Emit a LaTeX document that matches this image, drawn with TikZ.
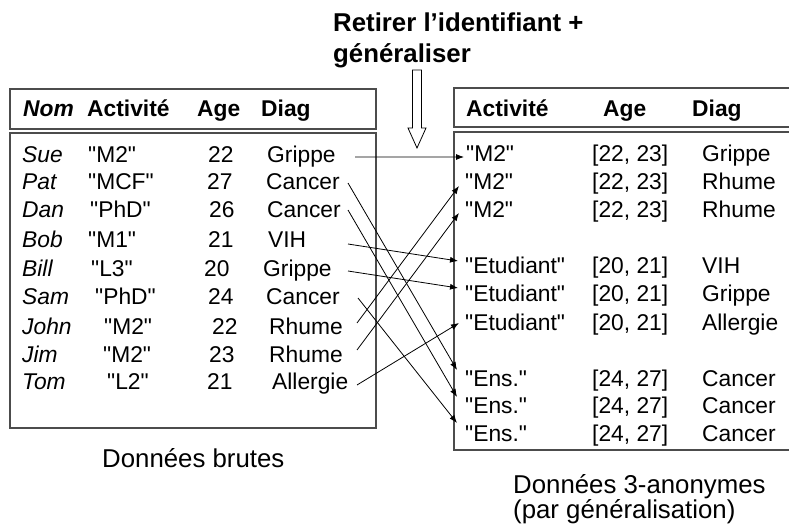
\documentclass[tikz,border=0pt]{standalone}
\usepackage{fontspec}
\setmainfont{Liberation Sans}
\usepackage{xcolor}
\usepackage{tikz}
\usetikzlibrary{arrows.meta}
\definecolor{boxgray}{rgb}{0.3,0.3,0.3}
\newcommand{\qt}[1]{\textquotedbl#1\textquotedbl}

\begin{document}
\begin{tikzpicture}[x=1bp, y=-1bp,
	cell/.style={anchor=base west, inner sep=0pt, font=\fontsize{22.8bp}{27bp}\selectfont},
	head/.style={cell, font=\fontsize{22.8bp}{27bp}\selectfont\bfseries},
	caption/.style={anchor=base west, inner sep=0pt, align=left, font=\fontsize{25.8bp}{25bp}\selectfont},
	frame/.style={draw=boxgray, line width=1.2bp},
	link/.style={-{Latex[length=8bp,width=6bp]}, line width=0.8bp}]
	\useasboundingbox (0,0) rectangle (789,530);
	\draw[frame] (10,89) rectangle (376,129);
	\draw[frame] (10,133) rectangle (376,428);
	\draw[frame] (800,88) -- (454,88) -- (454,127) -- (800,127);
	\draw[frame] (800,132) -- (454,132) -- (454,450) -- (800,450);
	\node[head] (hnom) at (23,117) {\itshape Nom};
	\node[head] (hact) at (87,117) {Activité};
	\node[head] (hage) at (197,117) {Age};
	\node[head] (hdiag) at (261,117) {Diag};
	\node[head] (kact) at (466,117) {Activité};
	\node[head] (kage) at (603,117) {Age};
	\node[head] (kdiag) at (692,117) {Diag};
	\foreach \i/\y/\nom/\xa/\act/\xg/\age/\xd/\diag in {
		1/163/Sue/88/M2/208/22/267/Grippe,
		2/190/Pat/88/MCF/207/27/266/Cancer,
		3/218/Dan/90/PhD/209/26/267/Cancer,
		4/248/Bob/88/M1/208/21/268/VIH,
		5/277/Bill/91/L3/204/20/263/Grippe,
		6/305/Sam/95/PhD/208/24/266/Cancer,
		7/334/John/104/M2/212/22/269/Rhume,
		8/362/Jim/103/M2/209/23/269/Rhume,
		9/389/Tom/107/L2/207/21/272/Allergie}{
		\node[cell] (n\i) at (22,\y) {\itshape\nom};
		\node[cell] (c\i) at (\xa,\y) {\qt{\act}};
		\node[cell] (g\i) at (\xg,\y) {\age};
		\node[cell] (d\i) at (\xd,\y) {\diag};
	}
	\foreach \i/\y/\xa/\act/\age/\diag in {
		1/162/466/M2/{[22, 23]}/Grippe,
		2/190/465/M2/{[22, 23]}/Rhume,
		3/218/465/M2/{[22, 23]}/Rhume,
		4/274/465/Etudiant/{[20, 21]}/VIH,
		5/302/465/Etudiant/{[20, 21]}/Grippe,
		6/330/465/Etudiant/{[20, 21]}/Allergie,
		7/386/465/Ens./{[24, 27]}/Cancer,
		8/413/465/Ens./{[24, 27]}/Cancer,
		9/441/465/Ens./{[24, 27]}/Cancer}{
		\node[cell] (a\i) at (\xa,\y) {\qt{\act}};
		\node[cell] (b\i) at (592,\y) {\age};
		\node[cell] (e\i) at (702,\y) {\diag};
	}
	\node[anchor=base west, inner sep=0pt, align=left, font=\fontsize{25.8bp}{31bp}\selectfont\bfseries] (titre) at (333,63) {Retirer l’identifiant +\\généraliser};
	\draw[line width=0.8bp] (412.5,70) -- (421.5,70) -- (421.5,128) -- (426,128) -- (417,148) -- (408,128) -- (412.5,128) -- cycle;
	\node[caption] (brut) at (102,467) {Données brutes};
	\node[caption] (anon) at (513,518) {Données 3-anonymes\\(par généralisation)};
	\foreach \s/\dx/\dy/\t/\ex/\ey in {1/88/6/1/2/5, 2/82/7/7/8/16, 3/81/8/8/8/16, 4/80/4/4/7/13, 5/85/6/5/7/14, 6/92/7/9/8/18, 7/88/11/2/6/4, 8/88/12/3/6/5, 9/85/4/6/6/7}
		\draw[link] ([xshift=\dx bp,yshift=\dy bp]d\s.base west) -- ([xshift=-\ex bp,yshift=\ey bp]a\t.base west);
\end{tikzpicture}
\end{document}
